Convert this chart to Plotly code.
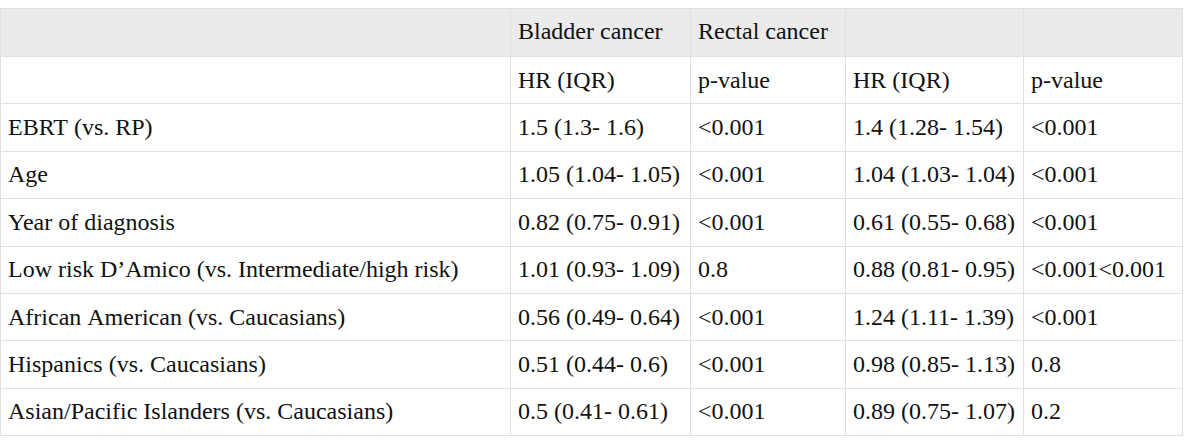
import plotly.graph_objects as go

# Column headers (first header row) and sub-header row
top_header = ["", "Bladder cancer", "Rectal cancer", "", ""]
sub_header = ["", "HR (IQR)", "p-value", "HR (IQR)", "p-value"]

variables = [
    "EBRT (vs. RP)",
    "Age",
    "Year of diagnosis",
    "Low risk D\u2019Amico (vs. Intermediate/high risk)",
    "African American (vs. Caucasians)",
    "Hispanics (vs. Caucasians)",
    "Asian/Pacific Islanders (vs. Caucasians)",
]
bladder_hr = [
    "1.5 (1.3- 1.6)",
    "1.05 (1.04- 1.05)",
    "0.82 (0.75- 0.91)",
    "1.01 (0.93- 1.09)",
    "0.56 (0.49- 0.64)",
    "0.51 (0.44- 0.6)",
    "0.5 (0.41- 0.61)",
]
bladder_p = ["<0.001", "<0.001", "<0.001", "0.8", "<0.001", "<0.001", "<0.001"]
rectal_hr = [
    "1.4 (1.28- 1.54)",
    "1.04 (1.03- 1.04)",
    "0.61 (0.55- 0.68)",
    "0.88 (0.81- 0.95)",
    "1.24 (1.11- 1.39)",
    "0.98 (0.85- 1.13)",
    "0.89 (0.75- 1.07)",
]
rectal_p = ["<0.001", "<0.001", "<0.001", "<0.001<0.001", "<0.001", "0.8", "0.2"]

col_widths = [510, 180, 155, 178, 159]
W, H = 1200, 444
table_top = 8      # px from top of page
text_dy = 2        # push text down a touch so it sits mid-row like the reference
header_h = 48.5
row_h = 47.4


def span(s):
    # nbsp stops plotly from wrapping; span keeps every cell on the same markup path
    s = s.replace("<", "&lt;").replace(" ", "\u00a0")
    return "<span>" + s + "</span>"


columns = [variables, bladder_hr, bladder_p, rectal_hr, rectal_p]
cell_values = [[span(sub_header[i])] + [span(v) for v in col] for i, col in enumerate(columns)]
header_values = [span(h) for h in top_header]
blank_cells = [[""] * len(c) for c in cell_values]

line_color = "#e0e0e0"
font = dict(family="Liberation Serif", size=24, color="#111111")
clear = "rgba(0,0,0,0)"
x_dom = [0, sum(col_widths) / W]

fig = go.Figure()

# grid + fills
fig.add_trace(go.Table(
    columnwidth=col_widths,
    header=dict(values=[""] * 5, fill_color="#ebebeb", line_color=line_color,
                height=header_h),
    cells=dict(values=blank_cells, fill_color="white", line_color=line_color,
               height=row_h),
    domain=dict(x=x_dom, y=[0, 1 - table_top / H]),
))

# text layer
fig.add_trace(go.Table(
    columnwidth=col_widths,
    header=dict(values=header_values, fill_color=clear, line_color=clear,
                align="left", font=font, height=header_h),
    cells=dict(values=cell_values, fill_color=clear, line_color=clear,
               align="left", font=font, height=row_h),
    domain=dict(x=x_dom, y=[0, 1 - (table_top + text_dy) / H]),
))

fig.update_layout(
    width=W,
    height=H,
    margin=dict(l=0, r=0, t=0, b=0),
    paper_bgcolor="white",
)

fig.write_html("out.html", config={"displayModeBar": False},
               post_script="document.body.style.margin='0';")
